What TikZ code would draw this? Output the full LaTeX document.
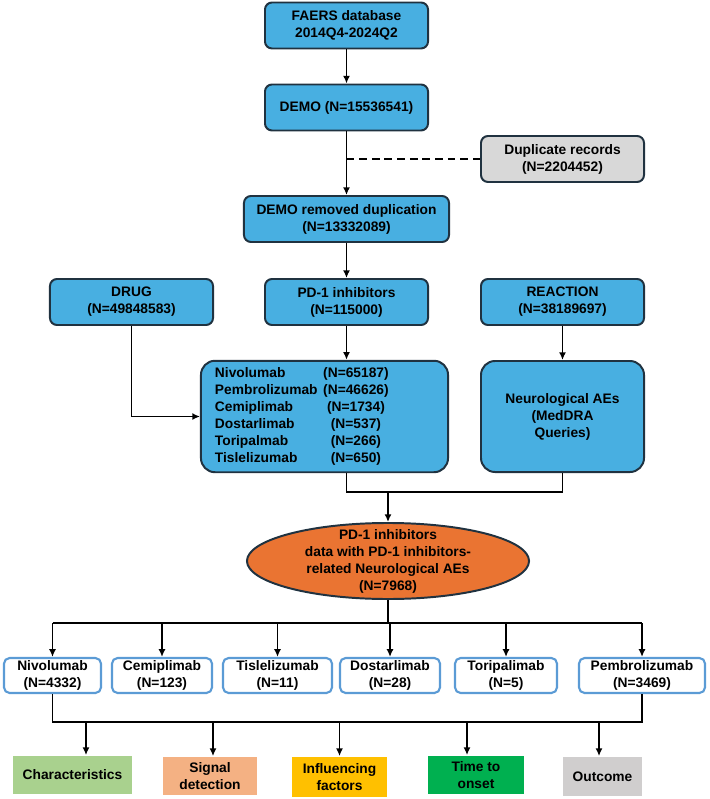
\documentclass[tikz,border=0pt]{standalone}
\usepackage{fontspec}
\setmainfont{Liberation Sans}
\usetikzlibrary{shapes.geometric,arrows.meta,calc}
\definecolor{skyfill}{RGB}{72,175,225}
\definecolor{darkline}{RGB}{32,50,64}
\definecolor{dupfill}{RGB}{216,216,216}
\definecolor{popfill}{RGB}{234,116,50}
\definecolor{drugline}{RGB}{91,155,213}
\definecolor{charfill}{RGB}{169,209,142}
\definecolor{sigfill}{RGB}{244,177,131}
\definecolor{inffill}{RGB}{255,192,0}
\definecolor{timefill}{RGB}{0,176,80}
\definecolor{outfill}{RGB}{208,206,206}

\begin{document}
\begin{tikzpicture}[x=0.025cm, y=-0.025cm, >={Latex[length=5.5pt,width=5pt]},
    font=\fontsize{9.8}{12.1}\selectfont\bfseries,
    box/.style={draw=darkline, fill=skyfill, line width=1.4pt, rounded corners=5pt,
        align=center, minimum width=4.075cm, minimum height=1.15cm},
    popnode/.style={ellipse, draw=darkline, fill=popfill, line width=1.4pt, align=center,
        minimum width=7.05cm, minimum height=1.9cm, inner xsep=0pt, inner ysep=-4pt},
    drugbox/.style={draw=drugline, fill=white, line width=1.5pt, rounded corners=4pt,
        align=center, minimum height=0.875cm, inner sep=1pt}, % cajas de cada fármaco
    outbox/.style={align=center, minimum height=0.95cm, inner sep=1pt},
    dashline/.style={line width=1.3pt, dash pattern=on 5.5pt off 3.5pt},
    every path/.style={line width=1.3pt}]
\useasboundingbox (0,0) rectangle (709,799);

\node[box] (faers) at (346.5,25.5) {FAERS database\\2014Q4-2024Q2};
\node[box] (demo) at (346.5,107.5) {DEMO (N=15536541)};
\node[box, fill=dupfill] (dup) at (562.5,159) {Duplicate records\\(N=2204452)};
\node[box, minimum width=5.125cm] (demorm) at (346.5,219) {DEMO removed duplication\\(N=13332089)};
\node[box] (drug) at (131.5,302) {DRUG\\(N=49848583)};
\node[box] (pd1) at (346.5,302) {PD-1 inhibitors\\(N=115000)};
\node[box] (reaction) at (562.5,302) {REACTION\\(N=38189697)};
\node[box, minimum height=2.775cm, text width=5.475cm, inner xsep=0.35cm, align=left,
    rounded corners=10pt] (list) at (324.5,416.5) {%
    \begin{tabular}{@{}l@{\hspace{4pt}}c@{}}
    Nivolumab & (N=65187)\\
    Pembrolizumab & (N=46626)\\
    Cemiplimab & (N=1734)\\
    Dostarlimab & (N=537)\\
    Toripalmab & (N=266)\\
    Tislelizumab & (N=650)
    \end{tabular}};
\node[box, minimum height=2.775cm, rounded corners=10pt] (neuro) at (562.5,416.5)
    {Neurological AEs\\(MedDRA\\Queries)};
\node[popnode] (pop) at (388,561) {PD-1 inhibitors\\data with PD-1 inhibitors-\\related Neurological AEs\\(N=7968)};

\node[drugbox, minimum width=2.425cm] (c1) at (52.5,675.5) {Nivolumab\\(N=4332)};
\node[drugbox, minimum width=2.5cm] (c2) at (162,675.5) {Cemiplimab\\(N=123)};
\node[drugbox, minimum width=2.725cm] (c3) at (277.5,675.5) {Tislelizumab\\(N=11)};
\node[drugbox, minimum width=2.5cm] (c4) at (390,675.5) {Dostarlimab\\(N=28)};
\node[drugbox, minimum width=2.55cm] (c5) at (506,675.5) {Toripalimab\\(N=5)};
\node[drugbox, minimum width=3.15cm] (c6) at (642,675.5) {Pembrolizumab\\(N=3469)};

\node[outbox, fill=charfill, minimum width=2.975cm] (o1) at (72.5,775) {Characteristics};
\node[outbox, fill=sigfill, minimum width=2.35cm] (o2) at (210,776) {Signal\\detection};
\node[outbox, fill=inffill, minimum width=2.375cm, minimum height=1cm] (o3) at (339.5,777) {Influencing\\factors};
\node[outbox, fill=timefill, minimum width=2.4cm] (o4) at (476,775) {Time to\\onset};
\node[outbox, fill=outfill, minimum width=1.975cm, minimum height=0.975cm] (o5) at (602.5,776.5) {Outcome};

\draw[->] (faers) -- (demo);
\draw[->] (demo) -- (demorm);
\coordinate (dj) at (demo |- dup);
\draw[dashline] (dj) -- (dup);
\draw[->] (demorm) -- (pd1);
\draw[->] (drug) |- (list);
\draw[->] (pd1) -- (pd1 |- list.north);
\draw[->] (reaction) -- (neuro);
\coordinate (mj) at (388,492);
\draw (pd1 |- list.south) |- (mj) -| (neuro.south);
\draw[->] (mj) -- (pop);
\coordinate (fork) at (388,623);
\draw (pop) -- (fork);
\draw (c1 |- fork) -- (c6 |- fork);
\foreach \n in {c1,c2,c3,c4,c5,c6}
    \draw[->] (\n |- fork) -- (\n);
\coordinate (bus) at (388,722);
\draw (c1.south) |- (bus) -| (c6.south);
\foreach \n/\s in {o1/13.5, o2/3, o3/0, o4/-9, o5/-3.5}
    \draw[->] ($(\n.north |- bus)+(\s,0)$) -- ($(\n.north)+(\s,0)$);
\end{tikzpicture}
\end{document}
